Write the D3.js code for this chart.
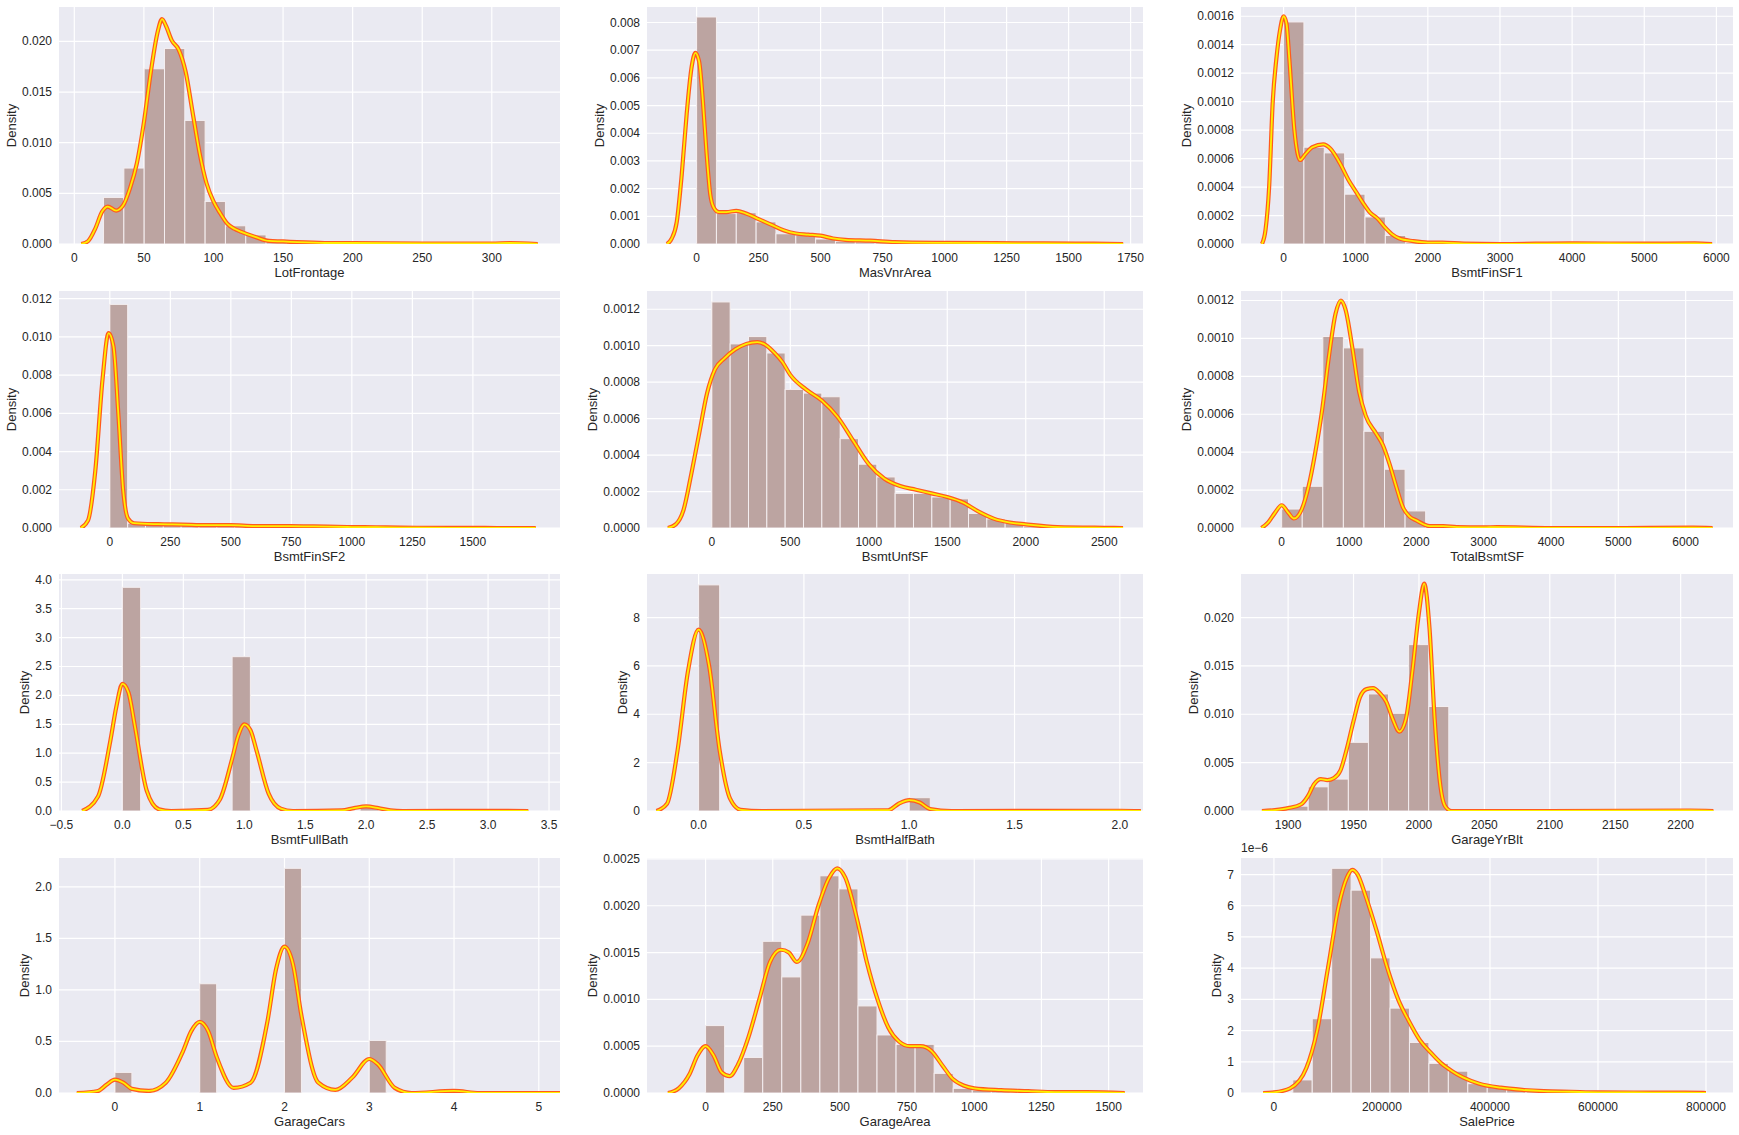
<!DOCTYPE html>
<html><head><meta charset="utf-8">
<script src="https://cdn.jsdelivr.net/npm/d3@7/dist/d3.min.js"></script>
<style>body{margin:0;background:#fff}svg{display:block}text{font-family:"Liberation Sans",Arial,sans-serif;fill:#262626}</style>
</head><body>
<svg id="c" width="1739" height="1135"></svg>
<script>
// ---- data ----
const names = ["LotFrontage","MasVnrArea","BsmtFinSF1","BsmtFinSF2","BsmtUnfSF","TotalBsmtSF","BsmtFullBath","BsmtHalfBath","GarageYrBlt","GarageCars","GarageArea","SalePrice"];
const binStart = [21,0,0,0,0,0,0,0,1900,0,0,34900];
const binWidth = [14.6,80,282.2,73.7,116.8,305.5,0.15,0.1,15.35,0.2,70.9,36005];
const heights = [
 [0.0046,0.0075,0.0173,0.0193,0.0122,0.0042,0.0018,0.0009,0.0003,0.0002,0.0001,0.00005,0.00003,0.00002,0.00002,0.00001,0.00001,0.00001,0.00001,0.00003],
 [0.0082,0.0011,0.00113,0.0008,0.00037,0.00033,0.00018,0.0001,0.00008,0.00005,0.00004,0.00003,0.00002,0.00001,0.00001,0.00001,0.000005,0.000005,0,0.000005],
 [0.00156,0.00068,0.00064,0.00035,0.00019,0.00006,0.00001,0.000005,0.000003,0,0,0,0,0,0.000002,0,0,0,0,0.000002],
 [0.0117,0.00025,0.0002,0.0002,0.00015,0.00012,0.0001,0.00012,0.0001,0.00008,0.00008,0.00005,0.00004,0.00003,0.00002,0.00002,0.00001,0.00001,0.00001,0.00001],
 [0.00124,0.00101,0.00105,0.00096,0.00076,0.00074,0.00072,0.00049,0.00035,0.00028,0.00019,0.00019,0.00017,0.00016,0.00008,0.00005,0.00003,0.00001,0.000005,0.000003],
 [0.0001,0.00022,0.00101,0.00095,0.00051,0.00031,0.00009,0.00001,0.000005,0.000003,0.000002,0,0,0,0,0,0,0,0,0.000002],
 [3.87,0,0,0,0,0,2.67,0,0,0,0,0,0,0.07,0,0,0,0,0,0.005],
 [9.35,0,0,0,0,0,0,0,0,0,0.55,0,0,0,0,0,0,0,0,0.02],
 [0.0005,0.0025,0.0033,0.0071,0.0121,0.0101,0.0172,0.0108,0,0,0,0,0,0,0,0,0,0,0,0.00005],
 [0.2,0,0,0,0,1.06,0,0,0,0,2.18,0,0,0,0,0.51,0,0,0,0.01],
 [0.00072,0,0.00038,0.00162,0.00124,0.0019,0.00232,0.00218,0.00093,0.00062,0.00052,0.00052,0.00021,0.00005,0.00003,0.00003,0.00001,0.00001,0,0.00001],
 [0.42e-6,2.38e-6,7.2e-6,6.5e-6,4.33e-6,2.72e-6,1.62e-6,0.95e-6,0.7e-6,0.3e-6,0.2e-6,0.12e-6,0.05e-6,0.05e-6,0.03e-6,0.02e-6,0.01e-6,0.01e-6,0,0.01e-6]
];
const kdeX = [
 [5,10,15,20,24,30,35,40,45,50,55,60,63,66,70,75,80,85,90,95,100,105,110,115,120,130,140,150,160,180,200,250,300,313,333],
 [-120,-100,-80,-60,-40,-20,-5,10,25,40,55,70,90,120,160,200,250,300,350,400,450,500,550,600,700,800,1000,1200,1400,1600,1720],
 [-300,-250,-200,-150,-100,-50,0,40,80,150,230,300,400,550,650,800,900,1000,1100,1200,1300,1400,1500,1600,1800,2000,2200,2500,3000,4000,5000,5700,5940],
 [-120,-90,-60,-30,-5,15,35,55,75,100,200,300,400,500,600,700,800,900,1000,1100,1200,1400,1500,1600,1760],
 [-280,-230,-180,-130,-80,-30,20,80,150,220,290,350,400,450,500,600,700,800,900,1000,1100,1200,1300,1400,1500,1600,1700,1800,1900,2000,2200,2500,2620],
 [-300,-200,-100,0,100,180,300,400,500,600,700,800,880,950,1050,1150,1250,1400,1500,1600,1700,1800,1900,2000,2200,2400,2600,3000,3200,4000,5000,6110,6400],
 [-0.33,-0.2,-0.1,-0.05,0,0.05,0.1,0.2,0.3,0.4,0.7,0.8,0.9,0.95,1.0,1.05,1.1,1.2,1.3,1.4,1.8,1.9,2.0,2.1,2.2,2.3,3.0,3.33],
 [-0.2,-0.15,-0.1,-0.05,0,0.05,0.1,0.15,0.2,0.3,0.9,0.95,1.0,1.05,1.1,1.2,2.0,2.1],
 [1880,1890,1900,1910,1915,1920,1925,1930,1935,1940,1945,1950,1955,1960,1965,1970,1975,1980,1985,1990,1995,2000,2004,2008,2012,2016,2020,2025,2100,2207,2225],
 [-0.45,-0.2,-0.1,0,0.1,0.2,0.4,0.6,0.8,0.9,1.0,1.1,1.2,1.4,1.6,1.8,1.9,2.0,2.1,2.2,2.4,2.6,2.8,3.0,3.1,3.3,3.5,4.0,4.3,5.4],
 [-140,-100,-60,-30,0,30,60,90,120,160,200,240,280,310,340,380,420,460,490,520,560,600,640,680,720,760,800,840,880,920,960,1000,1100,1200,1300,1420,1560],
 [-20000,0,30000,60000,80000,100000,120000,135000,145000,155000,170000,190000,210000,230000,250000,270000,290000,310000,330000,350000,380000,420000,460000,500000,550000,600000,700000,760000,800000]
];
const kdeY = [
 [0,0.0003,0.0015,0.0032,0.0037,0.0033,0.0038,0.0055,0.008,0.012,0.017,0.021,0.0222,0.0215,0.0201,0.0192,0.017,0.013,0.009,0.006,0.0042,0.003,0.002,0.0015,0.0012,0.0007,0.0003,0.00025,0.00018,0.0001,0.0001,0.00005,0.00005,0.0001,0],
 [0,0.0002,0.0008,0.0025,0.0047,0.0064,0.0069,0.0066,0.0052,0.0033,0.0018,0.0013,0.00115,0.00115,0.0012,0.0011,0.0009,0.0007,0.0005,0.00038,0.00034,0.0003,0.0002,0.00015,0.00012,0.00007,0.00004,0.00003,0.00002,0.00001,0],
 [0,0.0001,0.0004,0.001,0.0013,0.0015,0.0016,0.00155,0.0013,0.0008,0.00059,0.00063,0.00068,0.0007,0.00067,0.00055,0.00045,0.00037,0.00029,0.00022,0.00018,0.00012,0.00007,0.00004,0.00002,0.00001,0.00001,0.000003,0,0.000005,0.000002,0.000005,0],
 [0,0.0004,0.003,0.0078,0.0102,0.0095,0.006,0.002,0.0005,0.00025,0.0002,0.00018,0.00015,0.00015,0.0001,0.0001,0.00009,0.00007,0.00005,0.00004,0.00002,0.00001,0.00001,0,0],
 [0,0.00002,0.0001,0.0003,0.00052,0.00074,0.00087,0.00093,0.00098,0.00101,0.00102,0.001,0.00096,0.00091,0.00084,0.00076,0.0007,0.00061,0.00048,0.00035,0.00027,0.00023,0.00021,0.00019,0.00017,0.00014,0.00009,0.00005,0.00003,0.00002,0.000005,0.000001,0],
 [0,0.00003,0.00008,0.00012,0.00008,0.00005,0.0001,0.00022,0.0004,0.00062,0.0009,0.00113,0.0012,0.00115,0.00095,0.00072,0.00059,0.0005,0.00044,0.00034,0.00022,0.00011,0.00006,0.00004,0.00001,0.00001,0.000005,0.000003,0.000005,0,0,0.000002,0],
 [0,0.25,1.2,1.8,2.2,2.05,1.5,0.35,0.03,0,0.02,0.2,0.9,1.3,1.5,1.4,1.05,0.3,0.04,0,0.01,0.05,0.08,0.05,0.01,0,0.003,0],
 [0,0.3,2.5,5.8,7.5,6.0,2.5,0.5,0.05,0,0.03,0.3,0.45,0.35,0.08,0,0.01,0],
 [0,0.0001,0.0003,0.0007,0.0015,0.0028,0.0033,0.0032,0.0034,0.0042,0.0065,0.0093,0.0118,0.0126,0.0127,0.0122,0.0113,0.0095,0.0082,0.0095,0.0145,0.0205,0.0235,0.019,0.0095,0.003,0.0005,0,0,0.00005,0],
 [0,0.02,0.08,0.13,0.1,0.04,0.02,0.1,0.4,0.6,0.69,0.6,0.35,0.05,0.1,0.7,1.2,1.42,1.25,0.75,0.1,0.03,0.15,0.33,0.28,0.05,0,0.02,0,0],
 [0,0.00005,0.0002,0.0004,0.0005,0.0004,0.00022,0.00018,0.0003,0.0006,0.001,0.0014,0.00153,0.0015,0.0014,0.0016,0.002,0.0023,0.0024,0.0023,0.0019,0.0014,0.001,0.0007,0.00055,0.0005,0.0005,0.00045,0.0003,0.00015,0.00008,0.00005,0.00003,0.00002,0.00001,0.00001,0],
 [0,0.02e-6,0.15e-6,0.8e-6,2.0e-6,4.0e-6,6.0e-6,6.9e-6,7.15e-6,7.0e-6,6.3e-6,5.2e-6,4.0e-6,3.0e-6,2.3e-6,1.7e-6,1.3e-6,0.95e-6,0.7e-6,0.5e-6,0.3e-6,0.17e-6,0.1e-6,0.06e-6,0.04e-6,0.02e-6,0.015e-6,0.01e-6,0]
];
const xDomains = [[-11,349],[-200,1800],[-590,6230],[-210,1860],[-413,2747],[-604,6703],[-0.52,3.59],[-0.245,2.11],[1864,2240],[-0.66,5.25],[-218,1628],[-61000,850000]];
const yMax = [0.0234,0.00856,0.001665,0.0124,0.0013,0.00125,4.1,9.8,0.0245,2.28,0.00251,7.53e-6];
const xTicks = [
 [0,50,100,150,200,250,300],[0,250,500,750,1000,1250,1500,1750],[0,1000,2000,3000,4000,5000,6000],
 [0,250,500,750,1000,1250,1500],[0,500,1000,1500,2000,2500],[0,1000,2000,3000,4000,5000,6000],
 [-0.5,0,0.5,1,1.5,2,2.5,3,3.5],[0,0.5,1,1.5,2],[1900,1950,2000,2050,2100,2150,2200],
 [0,1,2,3,4,5],[0,250,500,750,1000,1250,1500],[0,200000,400000,600000,800000]
];
const xFmt = ["d","d","d","d","d","d",".1f",".1f","d","d","d","d"];
const yTicks = [
 [0,0.005,0.01,0.015,0.02],[0,0.001,0.002,0.003,0.004,0.005,0.006,0.007,0.008],[0,0.0002,0.0004,0.0006,0.0008,0.001,0.0012,0.0014,0.0016],
 [0,0.002,0.004,0.006,0.008,0.01,0.012],[0,0.0002,0.0004,0.0006,0.0008,0.001,0.0012],[0,0.0002,0.0004,0.0006,0.0008,0.001,0.0012],
 [0,0.5,1,1.5,2,2.5,3,3.5,4],[0,2,4,6,8],[0,0.005,0.01,0.015,0.02],
 [0,0.5,1,1.5,2],[0,0.0005,0.001,0.0015,0.002,0.0025],[0,1e-6,2e-6,3e-6,4e-6,5e-6,6e-6,7e-6]
];
const yFmt = [".3f",".3f",".4f",".3f",".4f",".4f",".1f","d",".3f",".1f",".4f","sci"];

// ---- layout ----
const colL = [59,647,1241], colR = [560,1143,1733];
const rowT = [7,291,574,858], rowB = [244,528,811,1093];
const svg = d3.select("#c");

names.forEach((nm,i)=>{
  const r = Math.floor(i/3), c = i%3;
  const x = d3.scaleLinear().domain(xDomains[i]).range([colL[c],colR[c]]);
  const y = d3.scaleLinear().domain([0,yMax[i]]).range([rowB[r],rowT[r]]);
  const g = svg.append("g");
  const clipId = "clip"+i;
  g.append("clipPath").attr("id",clipId).append("rect")
   .attr("x",colL[c]).attr("y",rowT[r]).attr("width",colR[c]-colL[c]).attr("height",rowB[r]-rowT[r]);
  g.append("rect").attr("x",colL[c]).attr("y",rowT[r]).attr("width",colR[c]-colL[c]).attr("height",rowB[r]-rowT[r]).attr("fill","#eaeaf2");
  const xt = xTicks[i].filter(t=>t>=xDomains[i][0]&&t<=xDomains[i][1]);
  g.selectAll(".gx").data(xt).enter().append("line").attr("x1",d=>x(d)).attr("x2",d=>x(d)).attr("y1",rowT[r]).attr("y2",rowB[r]).attr("stroke","#fff").attr("stroke-width",1.2);
  g.selectAll(".gy").data(yTicks[i]).enter().append("line").attr("y1",d=>y(d)).attr("y2",d=>y(d)).attr("x1",colL[c]).attr("x2",colR[c]).attr("stroke","#fff").attr("stroke-width",1.2);
  const cg = g.append("g").attr("clip-path",`url(#${clipId})`);
  cg.selectAll(".bar").data(heights[i]).enter().append("rect")
    .attr("x",(d,k)=>x(binStart[i]+k*binWidth[i]))
    .attr("width",(d,k)=>x(binStart[i]+(k+1)*binWidth[i])-x(binStart[i]+k*binWidth[i]))
    .attr("y",d=>y(d)).attr("height",d=>y(0)-y(d))
    .attr("fill","#bca4a1").attr("stroke","#f4eef0").attr("stroke-width",1);
  const pts = kdeX[i].map((v,k)=>[v,kdeY[i][k]]);
  const line = d3.line().x(d=>x(d[0])).y(d=>y(d[1])).curve(d3.curveMonotoneX);
  cg.append("path").attr("d",line(pts)).attr("fill","none").attr("stroke","#ff5a1e").attr("stroke-width",4.2).attr("stroke-linejoin","round");
  cg.append("path").attr("d",line(pts)).attr("fill","none").attr("stroke","#ffee00").attr("stroke-width",1.8).attr("stroke-linejoin","round");
  const xf = d3.format(xFmt[i]);
  g.selectAll(".xl").data(xt).enter().append("text").attr("x",d=>x(d)).attr("y",rowB[r]+18)
    .attr("text-anchor","middle").attr("font-size",12).text(d=>xf(d).replace("-","\u2212"));
  g.append("text").attr("x",(colL[c]+colR[c])/2).attr("y",rowB[r]+33).attr("text-anchor","middle").attr("font-size",13).text(nm);
  const yg = g.append("g");
  const yf = yFmt[i]==="sci" ? (d=>String(Math.round(d*1e6))) : d3.format(yFmt[i]);
  yg.selectAll(".yl").data(yTicks[i]).enter().append("text").attr("x",colL[c]-7).attr("y",d=>y(d)+4)
    .attr("text-anchor","end").attr("font-size",12).text(d=>yf(d));
  const bb = yg.node().getBBox();
  g.append("text").attr("transform",`translate(${bb.x-6},${(rowT[r]+rowB[r])/2}) rotate(-90)`).attr("text-anchor","middle").attr("font-size",13).text("Density");
  if(yFmt[i]==="sci") g.append("text").attr("x",colL[c]).attr("y",rowT[r]-6).attr("font-size",12).text("1e\u22126");
});
</script>
</body></html>
